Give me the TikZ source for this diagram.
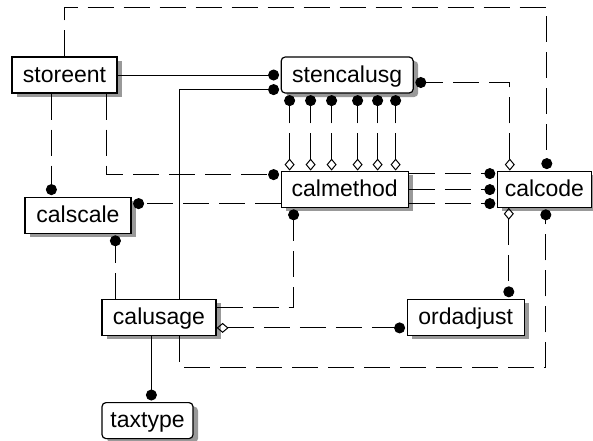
\documentclass[tikz,border=0pt]{standalone}
\usepackage{fontspec}
\setmainfont{Liberation Sans}
\usetikzlibrary{arrows.meta,positioning,shadows}
\begin{document}
\begin{tikzpicture}[x=1pt, y=1pt]
    % Define Styles
        \tikzstyle{entity} = [
            rectangle,
            draw,
            fill=white,
            line width = 1.2pt,
            minimum height = 36pt,
            inner ysep = 4pt,
            text height = 19pt,
            text depth = 5pt,
            font = \fontsize{23}{26}\selectfont,
            drop shadow = {shadow xshift=5pt, shadow yshift=-4pt, fill=black!40, opacity=1}
        ]
        \tikzstyle{depentity} = [
            entity,
            rounded corners = 4pt
        ]
        \tikzstyle{ident} = [
            draw,
            line width = 1pt,
            -{Circle[length=11pt]},
            shorten >= 1.5pt
        ]
        \tikzstyle{nonident} = [
            ident,
            dash pattern = on 26pt off 10pt
        ]
        \tikzstyle{nullable} = [
            nonident,
            {Diamond[open, length=12pt, width=10pt]}-{Circle[length=11pt]}
        ]
    \useasboundingbox (0,0) rectangle (593,-440);
    % Place nodes
        \node [entity, minimum width = 105pt] (storeent) at (64.5,-75) {storeent};
        \node [depentity, minimum width = 132pt, right = 163pt of storeent] (stencalusg) {stencalusg};
        \node [entity, minimum width = 127pt, below right = 77pt and 0pt of stencalusg.south west] (calmethod) {calmethod};
        \node [entity, minimum width = 94pt, right = 88pt of calmethod] (calcode) {calcode};
        \node [entity, minimum width = 106pt, below right = 103pt and 13pt of storeent.south west] (calscale) {calscale};
        \node [entity, minimum width = 114pt, below right = 65pt and 77pt of calscale.south west] (calusage) {calusage};
        \node [depentity, minimum width = 91pt, below right = 66pt and 0pt of calusage.south west] (taxtype) {taxtype};
        \node [entity, minimum width = 117pt, right = 190pt of calusage] (ordadjust) {ordadjust};
    % Draw edges
        \path [ident] (storeent.east) -- (storeent.east -| stencalusg.west);
        \path [ident] ([xshift=78pt]calusage.north west) |- ([yshift=4pt]stencalusg.south west);
        \foreach \dx in {9,30,51,77,97,115}
            \path [nullable] ([xshift=\dx pt]calmethod.north west) -- ([xshift=\dx pt]stencalusg.south west);
        \path [nonident] ([xshift=40pt]storeent.south west) -- ([xshift=40pt]storeent.south west |- calscale.north);
        \path [nonident] ([xshift=95pt]storeent.south west) |- ([yshift=-4pt]calmethod.north west);
        \path [nonident] ([xshift=14pt]calusage.north west) -- ([xshift=14pt]calusage.north west |- calscale.south);
        \path [nullable] ([xshift=13pt]calcode.north west) |- ([yshift=-7.5pt]stencalusg.east);
        \path [nonident] (storeent.north) -- ++(0,49pt) -| ([xshift=50pt]calcode.north west);
        \path [nullable] ([xshift=12pt]calcode.south west) -- ([xshift=12pt]calcode.south west |- ordadjust.north);
        \path [nullable] ([yshift=-10.5pt]calusage.east) -- ([yshift=-10.5pt]calusage.east -| ordadjust.west);
        \path [nonident] ([xshift=78pt]calusage.south west) -- ++(0,-31pt) -| ([xshift=49pt]calcode.south west);
        \path [ident] ([xshift=50pt]calusage.south west) -- ([xshift=50pt]calusage.south west |- taxtype.north);
        \foreach \dy in {3,19,33}
            \path [nonident] ([yshift=-\dy pt]calmethod.north east) -- ([yshift=-\dy pt]calmethod.north east -| calcode.west);
        \path [nonident] ([yshift=-33pt]calmethod.north west) -- ([yshift=-33pt]calmethod.north west -| calscale.east);
        \path [nonident] ([yshift=9.5pt]calusage.east) -| ([xshift=13pt]calmethod.south west);
\end{tikzpicture}
\end{document}
